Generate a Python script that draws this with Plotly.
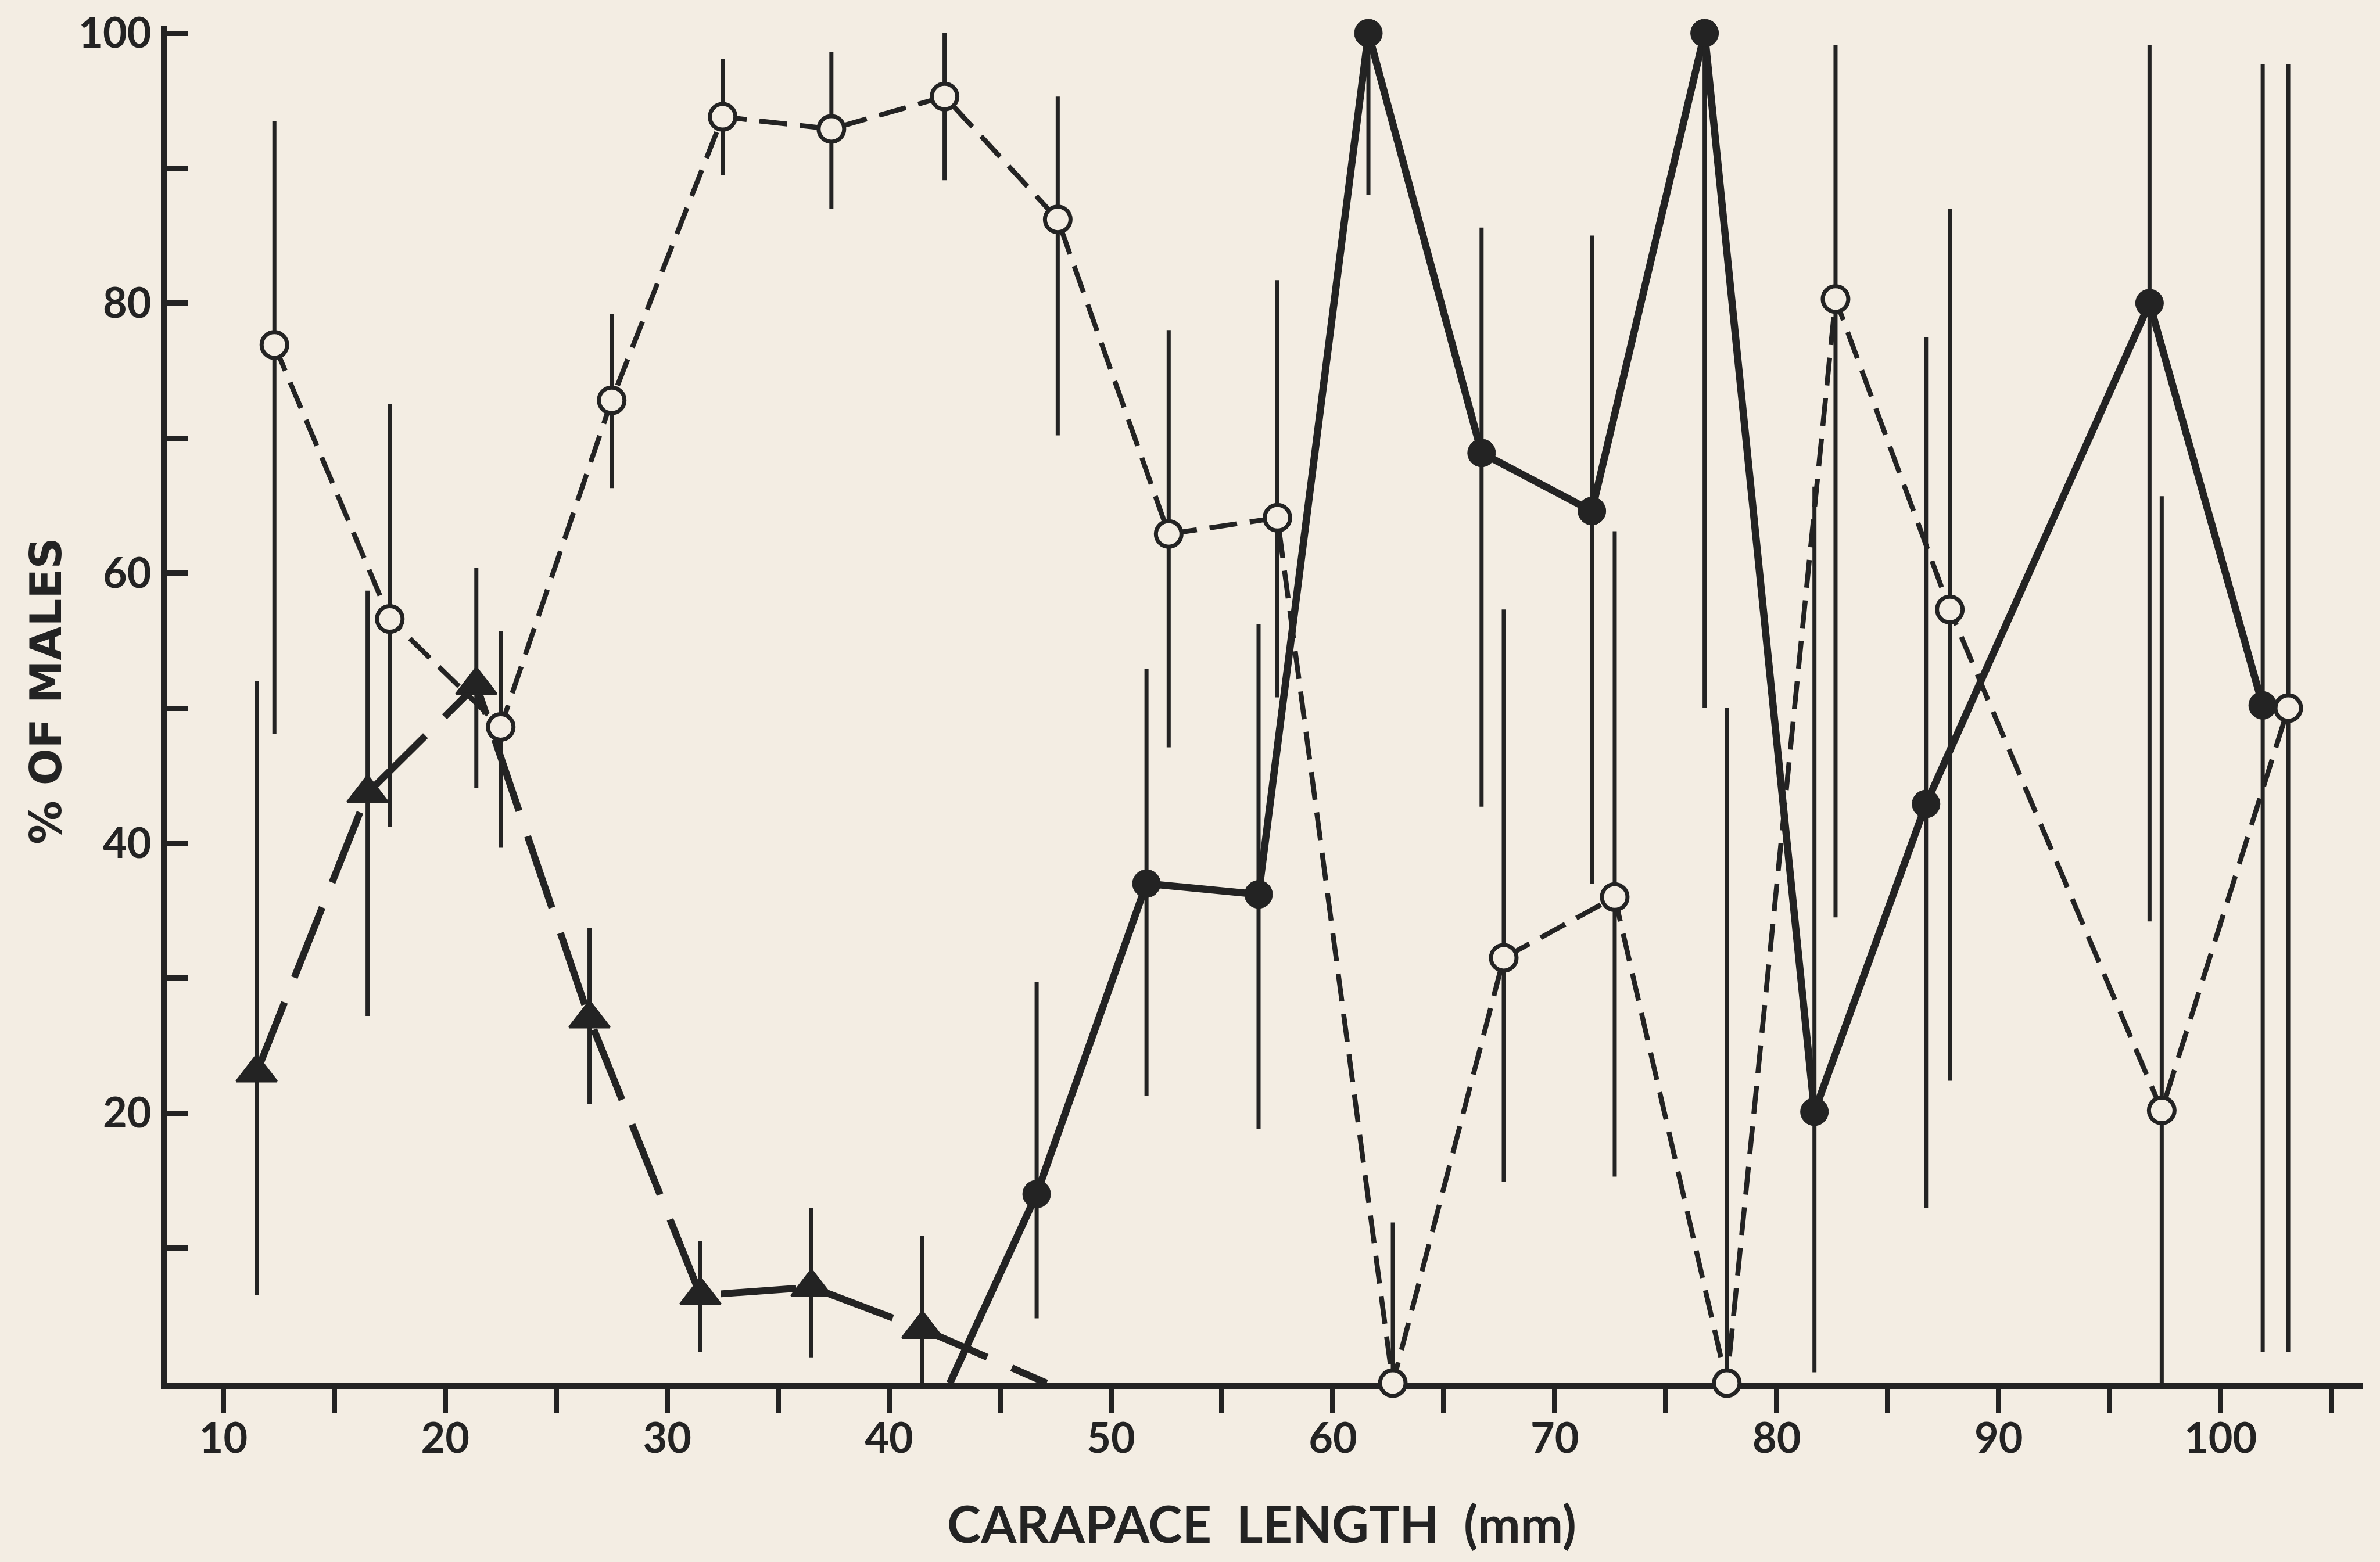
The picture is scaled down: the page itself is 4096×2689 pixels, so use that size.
import plotly.graph_objects as go

# ---------------- data ----------------
open_x = [12.3, 17.5, 22.5, 27.5, 32.5, 37.4, 42.5, 47.6, 52.6, 57.5, 62.7, 67.7, 72.7, 77.75, 82.65, 87.8, 97.35, 103.05]
open_y = [76.9, 56.6, 48.6, 72.8, 93.8, 92.9, 95.3, 86.2, 62.9, 64.1, 0, 31.5, 36.0, 0, 80.3, 57.3, 20.2, 50.0]
open_lo = [48.1, 41.2, 39.7, 66.3, 89.5, 87.0, 89.1, 70.2, 47.1, 50.8, 0, 14.9, 15.3, 0, 34.5, 22.4, 0, 2.3]
open_hi = [93.5, 72.5, 55.7, 79.2, 98.1, 98.6, 100, 95.3, 78.0, 81.7, 11.9, 57.3, 63.1, 50.0, 99.1, 87.0, 65.7, 97.7]

filled_x = [46.65, 51.6, 56.65, 61.6, 66.7, 71.67, 76.75, 81.7, 86.73, 96.8, 101.9]
filled_y = [14.0, 37.0, 36.2, 100, 68.9, 64.6, 100, 20.1, 42.9, 80.0, 50.2]
filled_lo = [4.8, 21.3, 18.8, 88.0, 42.7, 37.0, 50.0, 0.8, 13.0, 34.2, 2.3]
filled_hi = [29.7, 52.9, 56.2, 100, 85.6, 85.0, 100, 66.4, 77.5, 99.1, 97.7]
filled_line_start_x = [42.74]
filled_line_start_y = [0]

tri_x = [11.5, 16.5, 21.4, 26.5, 31.5, 36.5, 41.5]
tri_y = [23.0, 43.7, 51.7, 27.0, 6.5, 7.1, 4.0]
tri_lo = [6.5, 27.2, 44.1, 20.7, 2.3, 1.9, 0]
tri_hi = [52.0, 58.7, 60.4, 33.7, 10.5, 13.0, 10.9]
tri_line_end_x = [47.1]
tri_line_end_y = [0]

x_tickvals = [10, 15, 20, 25, 30, 35, 40, 45, 50, 55, 60, 65, 70, 75, 80, 85, 90, 95, 100, 105]
x_ticktext = ["10", "", "20", "", "30", "", "40", "", "50", "", "60", "", "70", "", "80", "", "90", "", "100", ""]
y_tickvals = [10, 20, 30, 40, 50, 60, 70, 80, 90, 100]
y_ticktext = ["", "20", "", "40", "", "60", "", "80", "", "100"]

x_title = "CARAPACE  LENGTH  (mm)"
y_title = "% OF MALES"

# ---------------- style ----------------
INK = "#232323"
PAPER = "#f3ede3"
W, H = 4096, 2689
ML, MR, MT, MB = 287, 30, 44, 308
PW, PH = W - ML - MR, H - MT - MB


def err(y, lo, hi):
    return dict(type="data", symmetric=False,
                array=[h - v for v, h in zip(y, hi)],
                arrayminus=[v - l for v, l in zip(y, lo)],
                color=INK, thickness=7, width=0)


fig = go.Figure()

# connecting lines
fig.add_trace(go.Scatter(x=tri_x + tri_line_end_x, y=tri_y + tri_line_end_y, mode="lines",
                         line=dict(color=INK, width=12, dash="130px,46px"), cliponaxis=False,
                         hoverinfo="skip", showlegend=False))
fig.add_trace(go.Scatter(x=open_x, y=open_y, mode="lines",
                         line=dict(color=INK, width=8.5, dash="48px,22px"), cliponaxis=False,
                         hoverinfo="skip", showlegend=False))
fig.add_trace(go.Scatter(x=filled_line_start_x + filled_x, y=filled_line_start_y + filled_y, mode="lines",
                         line=dict(color=INK, width=12.5), cliponaxis=False,
                         hoverinfo="skip", showlegend=False))

# markers with error bars
fig.add_trace(go.Scatter(x=tri_x, y=tri_y, mode="markers", error_y=err(tri_y, tri_lo, tri_hi),
                         marker=dict(symbol="triangle-up", size=60, color=INK, line=dict(color=INK, width=4)),
                         cliponaxis=False, showlegend=False))
fig.add_trace(go.Scatter(x=filled_x, y=filled_y, mode="markers", error_y=err(filled_y, filled_lo, filled_hi),
                         marker=dict(symbol="circle", size=48, color=INK, line=dict(color=INK, width=1)),
                         cliponaxis=False, showlegend=False))
fig.add_trace(go.Scatter(x=open_x, y=open_y, mode="markers", error_y=err(open_y, open_lo, open_hi),
                         marker=dict(symbol="circle", size=44, color=PAPER, line=dict(color=INK, width=7)),
                         cliponaxis=False, showlegend=False))

tickfont = dict(family="Lato", size=72, color=INK, weight="bold")

fig.update_layout(
    width=W, height=H,
    margin=dict(l=ML, r=MR, t=MT, b=MB, pad=0),
    paper_bgcolor=PAPER, plot_bgcolor=PAPER,
    xaxis=dict(range=[7.45, 106.4], tickmode="array", tickvals=x_tickvals, ticktext=x_ticktext,
               ticks="outside", ticklen=42, tickwidth=9, tickcolor=INK,
               showline=True, linewidth=10, linecolor=INK, showgrid=False, zeroline=False,
               layer="below traces", tickfont=tickfont, ticklabelstandoff=-18),
    yaxis=dict(range=[0, 100.56], tickmode="array", tickvals=y_tickvals, ticktext=y_ticktext,
               ticks="inside", ticklen=36, tickwidth=9, tickcolor=INK,
               showline=True, linewidth=10, linecolor=INK, showgrid=False, zeroline=False,
               layer="below traces", tickfont=tickfont, ticklabelstandoff=2),
    annotations=[
        dict(text=x_title, xref="paper", yref="paper",
             x=(2171 - ML) / PW, y=(H - MB - 2622) / PH, xanchor="center", yanchor="middle",
             showarrow=False, font=dict(family="Lato", size=88, color=INK, weight="bold")),
        dict(text=y_title, xref="paper", yref="paper", textangle=-90,
             x=(78.6 - ML) / PW, y=(H - MB - 1190) / PH, xanchor="center", yanchor="middle",
             showarrow=False, font=dict(family="DejaVu Sans", size=75, color=INK, weight="bold")),
    ],
)

fig.write_html("out.html", config={"displayModeBar": False},
               post_script="document.body.style.margin='0';document.body.style.overflow='hidden';")
